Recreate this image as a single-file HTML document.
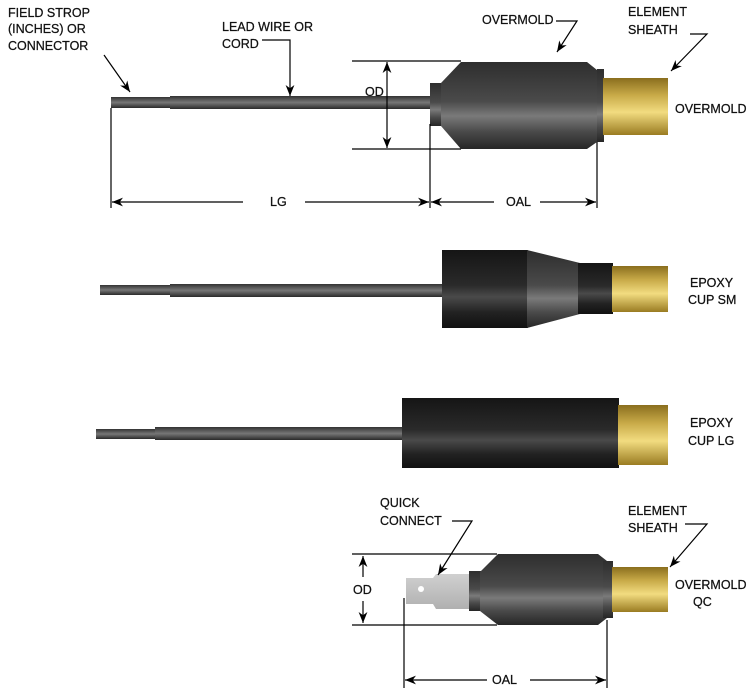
<!DOCTYPE html>
<html><head><style>
html,body{margin:0;padding:0;background:#fff;}
svg{display:block;}
text{font-family:"Liberation Sans",sans-serif;font-size:12.5px;fill:#111;stroke:#111;stroke-width:0.25px;}
</style></head><body>
<svg width="749" height="700" viewBox="0 0 749 700" xmlns="http://www.w3.org/2000/svg">
<defs>
<linearGradient id="dk" x1="0" y1="0" x2="0" y2="1">
<stop offset="0" stop-color="#2e2e2e"/><stop offset="0.45" stop-color="#4a4a4a"/><stop offset="0.62" stop-color="#7a7a7a"/><stop offset="0.8" stop-color="#4a4a4a"/><stop offset="1" stop-color="#262626"/></linearGradient>
<linearGradient id="bk" x1="0" y1="0" x2="0" y2="1">
<stop offset="0" stop-color="#151515"/><stop offset="0.45" stop-color="#2a2a2a"/><stop offset="0.6" stop-color="#4a4a4a"/><stop offset="0.8" stop-color="#222"/><stop offset="1" stop-color="#111"/></linearGradient>
<linearGradient id="br" x1="0" y1="0" x2="0" y2="1">
<stop offset="0" stop-color="#8a6e1e"/><stop offset="0.3" stop-color="#c8aa48"/><stop offset="0.6" stop-color="#f2dc80"/><stop offset="1" stop-color="#9a7c22"/></linearGradient>
<linearGradient id="wr" x1="0" y1="0" x2="0" y2="1">
<stop offset="0" stop-color="#333"/><stop offset="0.5" stop-color="#777"/><stop offset="1" stop-color="#2a2a2a"/></linearGradient>
<linearGradient id="sp" x1="0" y1="0" x2="0" y2="1">
<stop offset="0" stop-color="#d0d0d0"/><stop offset="1" stop-color="#b0b0b0"/></linearGradient>
<marker id="ah" viewBox="0 0 10 10" refX="10" refY="5" markerWidth="13" markerHeight="11" orient="auto-start-reverse" markerUnits="userSpaceOnUse"><path d="M0,1 L10,5 L0,9 L3,5z" fill="#000"/></marker>
</defs>

<!-- ROW 1 -->
<rect x="111" y="97" width="59" height="11" fill="url(#wr)"/>
<rect x="170" y="96" width="262" height="13" fill="url(#wr)"/>
<rect x="430" y="83" width="12" height="43" fill="url(#dk)"/>
<path d="M441,83 L461,62 L587,62 L597,70 L597,142 L587,149 L461,149 L441,126z" fill="url(#dk)"/>
<rect x="597" y="69" width="7" height="73" fill="url(#dk)"/>
<rect x="603" y="78" width="65" height="57" fill="url(#br)"/>
<g stroke="#000" stroke-width="1.2" fill="none">
<line x1="352" y1="61" x2="461" y2="61"/><line x1="352" y1="149" x2="461" y2="149"/>
<line x1="387" y1="62" x2="387" y2="148" marker-start="url(#ah)" marker-end="url(#ah)"/>
<line x1="111" y1="108" x2="111" y2="208"/><line x1="430" y1="124" x2="430" y2="208"/><line x1="597" y1="142" x2="597" y2="208"/>
<line x1="112" y1="202" x2="243" y2="202" marker-start="url(#ah)"/><line x1="305" y1="202" x2="429" y2="202" marker-end="url(#ah)"/>
<line x1="431" y1="202" x2="494" y2="202" marker-start="url(#ah)"/><line x1="540" y1="202" x2="596" y2="202" marker-end="url(#ah)"/>
<line x1="104" y1="55" x2="130" y2="92" marker-end="url(#ah)"/>
<polyline points="262,40 290,40 290,96" marker-end="url(#ah)"/>
<polyline points="556,21 577,21 557,52" marker-end="url(#ah)"/>
<polyline points="690,34 707,34 671,71" marker-end="url(#ah)"/>
</g>
<text x="8" y="17">FIELD STROP</text><text x="8" y="33">(INCHES) OR</text><text x="8" y="50">CONNECTOR</text>
<text x="222" y="31">LEAD WIRE OR</text><text x="222" y="48">CORD</text>
<text x="482" y="24">OVERMOLD</text>
<text x="628" y="16">ELEMENT</text><text x="628" y="34">SHEATH</text>
<text x="675" y="113">OVERMOLD</text>
<text x="365" y="96">OD</text>
<text x="270" y="206">LG</text>
<text x="506" y="206">OAL</text>

<!-- ROW 2 -->
<rect x="100" y="285" width="70" height="10" fill="url(#wr)"/>
<rect x="170" y="284" width="274" height="13" fill="url(#wr)"/>
<rect x="442" y="250" width="86" height="78" fill="url(#bk)"/>
<path d="M527,250 L580,263 L580,314 L527,328z" fill="url(#dk)"/>
<rect x="578" y="263" width="35" height="51" fill="url(#bk)"/>
<rect x="612" y="266" width="56" height="46" fill="url(#br)"/>
<text x="690" y="287">EPOXY</text><text x="688" y="304">CUP SM</text>

<!-- ROW 3 -->
<rect x="96" y="429" width="60" height="10" fill="url(#wr)"/>
<rect x="155" y="427" width="249" height="13" fill="url(#wr)"/>
<rect x="402" y="398" width="217" height="70" fill="url(#bk)"/>
<rect x="618" y="405" width="50" height="60" fill="url(#br)"/>
<text x="690" y="427">EPOXY</text><text x="688" y="445">CUP LG</text>

<!-- ROW 4 -->
<path d="M406,578 L433,578 L436,574 L470,574 L470,609 L436,609 L433,604 L406,604z" fill="url(#sp)"/>
<circle cx="421" cy="589" r="3" fill="#fff"/>
<rect x="469" y="571" width="12" height="40" fill="url(#dk)"/>
<path d="M480,572 L498,554 L598,554 L607,561 L607,618 L598,625 L498,625 L480,611z" fill="url(#dk)"/>
<rect x="603" y="561" width="10" height="57" fill="url(#dk)"/>
<rect x="612" y="567" width="56" height="45" fill="url(#br)"/>
<g stroke="#000" stroke-width="1.2" fill="none">
<line x1="352" y1="554" x2="497" y2="554"/><line x1="352" y1="625" x2="497" y2="625"/>
<line x1="363" y1="556" x2="363" y2="577" marker-start="url(#ah)"/><line x1="363" y1="601" x2="363" y2="623" marker-end="url(#ah)"/>
<line x1="404" y1="598" x2="404" y2="688"/><line x1="607" y1="620" x2="607" y2="688"/>
<line x1="405" y1="680" x2="487" y2="680" marker-start="url(#ah)"/><line x1="530" y1="680" x2="606" y2="680" marker-end="url(#ah)"/>
<polyline points="452,521 472,521 438,575" marker-end="url(#ah)"/>
<polyline points="685,524 707,524 670,567" marker-end="url(#ah)"/>
</g>
<text x="380" y="507">QUICK</text><text x="380" y="525">CONNECT</text>
<text x="628" y="515">ELEMENT</text><text x="628" y="532">SHEATH</text>
<text x="675" y="589">OVERMOLD</text><text x="693" y="606">QC</text>
<text x="353" y="594">OD</text>
<text x="492" y="684">OAL</text>
</svg>
</body></html>
